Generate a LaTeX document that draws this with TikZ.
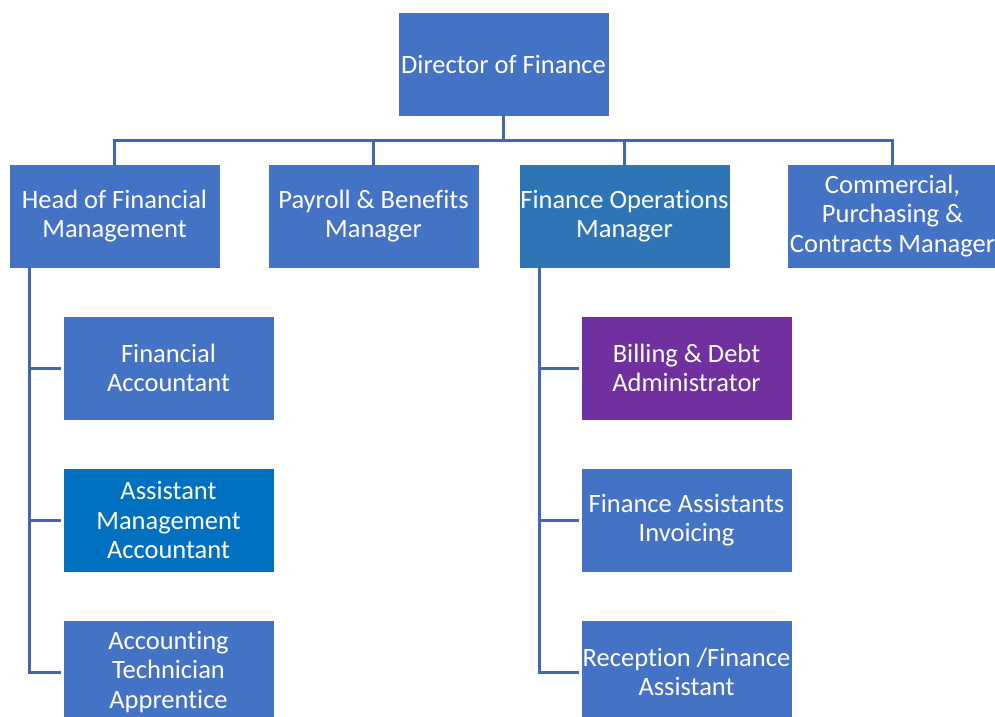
\documentclass[tikz,border=0pt]{standalone}
\usepackage{fontspec}
\setmainfont[Ligatures=NoCommon]{Carlito}
\definecolor{boxblue}{HTML}{4472C4}
\definecolor{opsblue}{HTML}{2E75B6}
\definecolor{mgmtblue}{HTML}{0070C0}
\definecolor{billpurple}{HTML}{7030A0}
\definecolor{linkblue}{HTML}{4068B2}
\tikzset{
  role/.style={rectangle, fill=boxblue, draw=white, line width=0.8pt,
    minimum width=211pt, minimum height=104pt, inner sep=0pt,
    align=center, text=white, font=\fontsize{26.5}{29.3}\selectfont},
  conn/.style={draw=linkblue, line width=3pt}
}
\begin{document}
\begin{tikzpicture}[x=1pt,y=-1pt]
\useasboundingbox (0,0) rectangle (995,716);

% top level
\node[role] (dir) at (503.5,64) {Director of Finance};

% managers
\node[role] (head) at (114.5,216) {Head of Financial\\Management};
\node[role] (pay)  at (373.5,216) {Payroll \& Benefits\\Manager};
\node[role, fill=opsblue] (ops) at (624.5,216) {Finance Operations\\Manager};
\node[role] (cpc)  at (892.5,216) {Commercial,\\Purchasing \&\\Contracts Manager};

% financial management team
\node[role] (fa)   at (168.5,368) {Financial\\Accountant};
\node[role, fill=mgmtblue] (ama) at (168.5,520) {Assistant\\Management\\Accountant};
\node[role] (tech) at (168.5,672) {Accounting\\Technician\\Apprentice};

% finance operations team
\node[role, fill=billpurple] (bill) at (686.5,368) {Billing \& Debt\\Administrator};
\node[role] (inv)  at (686.5,520) {Finance Assistants\\Invoicing};
\node[role] (rec)  at (686.5,672) {Reception /Finance\\Assistant};

% reporting lines
\coordinate (bus) at (0,140);
\coordinate (lspine) at (29,0);
\coordinate (rspine) at (539,0);

\draw[conn] ([yshift=2pt]dir.south) -- (dir.south |- bus);
\draw[conn] ([yshift=-2pt]head.north) -- (head.north |- bus) -- (cpc.north |- bus) -- ([yshift=-2pt]cpc.north);
\draw[conn] ([yshift=-2pt]pay.north) -- (pay.north |- bus);
\draw[conn] ([yshift=-2pt]ops.north) -- (ops.north |- bus);

\draw[conn] ([yshift=2pt]lspine |- head.south) -- (lspine |- tech.west) -- ([xshift=-2pt]tech.west);
\draw[conn] (lspine |- fa.west) -- ([xshift=-2pt]fa.west);
\draw[conn] (lspine |- ama.west) -- ([xshift=-2pt]ama.west);

\draw[conn] ([yshift=2pt]rspine |- ops.south) -- (rspine |- rec.west) -- ([xshift=-2pt]rec.west);
\draw[conn] (rspine |- bill.west) -- ([xshift=-2pt]bill.west);
\draw[conn] (rspine |- inv.west) -- ([xshift=-2pt]inv.west);
\end{tikzpicture}
\end{document}
